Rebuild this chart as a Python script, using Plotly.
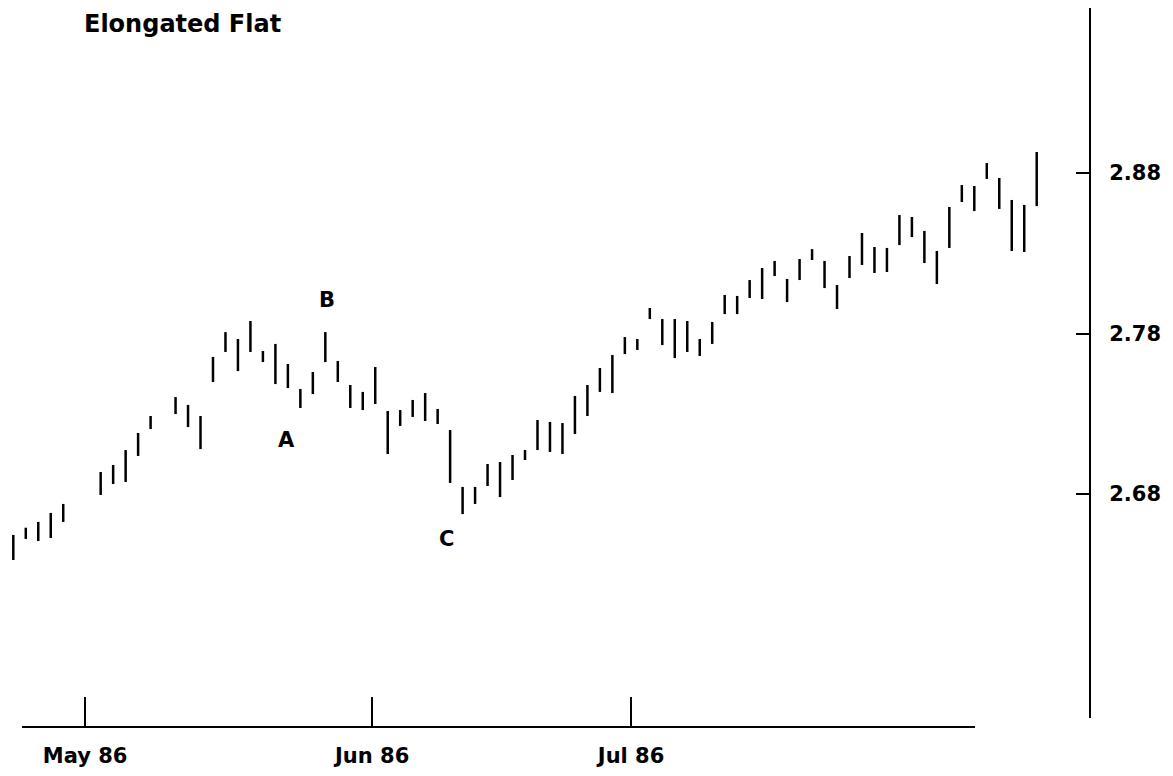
import plotly.graph_objects as go

# session slot (trading-day position), high and low of each bar
SESSION = [0, 1, 2, 3, 4, 7, 8, 9, 10, 11, 13, 14, 15, 16, 17, 18, 19, 20, 21, 22,
           23, 24, 25, 26, 27, 28, 29, 30, 31, 32, 33, 34, 35, 36, 37, 38, 39, 40, 41, 42,
           43, 44, 45, 46, 47, 48, 49, 50, 51, 52, 53, 54, 55, 56, 57, 58, 59, 60, 61, 62,
           63, 64, 65, 66, 67, 68, 69, 70, 71, 72, 73, 74, 75, 76, 77, 78, 79, 80, 81, 82]
HIGH = [2.6545, 2.6590, 2.6626, 2.6682, 2.6738, 2.6937, 2.6981, 2.7074, 2.7180, 2.7286,
        2.7404, 2.7355, 2.7286, 2.7654, 2.7809, 2.7766, 2.7878, 2.7691, 2.7735, 2.7610,
        2.7454, 2.7560, 2.7809, 2.7629, 2.7479, 2.7436, 2.7591, 2.7317, 2.7323, 2.7386,
        2.7429, 2.7330, 2.7199, 2.6844, 2.6844, 2.6987, 2.6999, 2.7043, 2.7074, 2.7261,
        2.7249, 2.7242, 2.7411, 2.7479, 2.7585, 2.7666, 2.7778, 2.7766, 2.7959, 2.7890,
        2.7890, 2.7878, 2.7766, 2.7872, 2.8040, 2.8034, 2.8133, 2.8208, 2.8252, 2.8140,
        2.8264, 2.8326, 2.8252, 2.8102, 2.8283, 2.8426, 2.8339, 2.8333, 2.8538, 2.8526,
        2.8439, 2.8314, 2.8588, 2.8725, 2.8719, 2.8862, 2.8769, 2.8632, 2.8601, 2.8931]
LOW = [2.6389, 2.6520, 2.6507, 2.6526, 2.6626, 2.6794, 2.6862, 2.6875, 2.7037, 2.7205,
       2.7298, 2.7217, 2.7080, 2.7498, 2.7685, 2.7566, 2.7685, 2.7622, 2.7485, 2.7460,
       2.7336, 2.7423, 2.7622, 2.7498, 2.7336, 2.7323, 2.7361, 2.7049, 2.7224, 2.7280,
       2.7255, 2.7236, 2.6869, 2.6675, 2.6738, 2.6850, 2.6781, 2.6887, 2.7012, 2.7074,
       2.7062, 2.7049, 2.7174, 2.7286, 2.7436, 2.7429, 2.7672, 2.7697, 2.7890, 2.7728,
       2.7647, 2.7685, 2.7660, 2.7735, 2.7921, 2.7921, 2.8021, 2.8015, 2.8158, 2.7996,
       2.8133, 2.8258, 2.8083, 2.7953, 2.8146, 2.8227, 2.8177, 2.8183, 2.8351, 2.8401,
       2.8239, 2.8108, 2.8333, 2.8619, 2.8563, 2.8763, 2.8576, 2.8314, 2.8308, 2.8594]

MONTH_POS = [5.75, 28.75, 49.5]
MONTH_LABELS = ["May 86", "Jun 86", "Jul 86"]
PRICE_TICKS = [2.68, 2.78, 2.88]

FONT = "DejaVu Sans"
W, H = 1165, 768          # page body keeps an 8px margin
PW, PH = 1081, 719        # plot area size

xs, ys = [], []
for s, h, l in zip(SESSION, HIGH, LOW):
    xs += [s, s, None]
    ys += [l, h, None]

fig = go.Figure()
fig.add_trace(go.Scatter(x=xs, y=ys, mode="lines",
                         line=dict(color="black", width=2.5),
                         hoverinfo="skip", showlegend=False))

# wave labels
for txt, x, y in [("A", 21.9, 2.7136), ("B", 25.1, 2.8006), ("C", 34.67, 2.6517)]:
    fig.add_annotation(x=x, y=y, text=txt, showarrow=False,
                       font=dict(family=FONT, size=21, color="black", weight="bold"))

fig.add_annotation(xref="paper", yref="paper", x=74 / PW, y=1,
                   xanchor="left", yanchor="top", showarrow=False,
                   text="Elongated Flat",
                   font=dict(family=FONT, size=24, color="black", weight="bold"))

# bottom axis line stops short of the price scale
fig.add_shape(type="line", xref="paper", yref="paper",
              x0=14 / PW, x1=967 / PW, y0=0, y1=0,
              line=dict(color="black", width=2))

fig.update_layout(
    width=W, height=H,
    margin=dict(l=0, r=W - PW, t=0, b=H - PH),
    plot_bgcolor="white", paper_bgcolor="white",
    showlegend=False,
    xaxis=dict(
        range=[-0.425, 86.19], anchor="free", position=0,
        showgrid=False, zeroline=False, showline=False,
        ticks="inside", ticklen=30, tickwidth=1.5, tickcolor="black",
        tickvals=MONTH_POS, ticktext=MONTH_LABELS, ticklabelstandoff=14,
        tickfont=dict(family=FONT, size=21, color="black", weight="bold"),
    ),
    yaxis=dict(
        domain=[9 / PH, 1], range=[2.54044, 2.98280], side="right",
        showgrid=False, zeroline=False,
        showline=True, linecolor="black", linewidth=2,
        ticks="inside", ticklen=13, tickwidth=2, tickcolor="black",
        tickvals=PRICE_TICKS, ticktext=[f"{v:.2f}" for v in PRICE_TICKS],
        ticklabelstandoff=14,
        tickfont=dict(family=FONT, size=21, color="black", weight="bold"),
    ),
)

fig.write_html("out.html")
